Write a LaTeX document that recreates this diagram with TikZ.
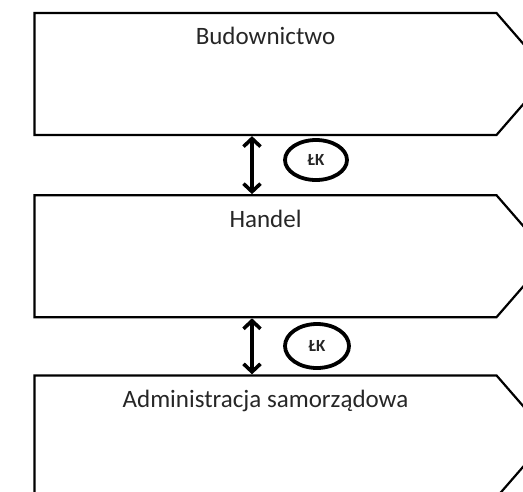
\documentclass[tikz,border=0pt]{standalone}
\usepackage{fontspec}
\setmainfont{Carlito}
\usetikzlibrary{positioning, shapes.symbols, shapes.geometric, arrows.meta}

\begin{document}
\begin{tikzpicture}[x=1pt, y=-1pt, >={Straight Barb[length=8pt,width=17pt]},
  sector/.style={draw, line width=2.2pt, shape=signal, signal to=east, signal pointer angle=98,
    minimum width=515pt, minimum height=122pt, inner sep=0pt},
  sectorname/.style={anchor=base, inner sep=0pt, yshift=-33pt, text=black!85, font=\fontsize{25}{30}\selectfont},
  lk/.style={draw, ellipse, line width=3.8pt, minimum width=62pt, minimum height=40pt, inner sep=0pt,
    text=black!85, font=\bfseries\fontsize{17}{20}\selectfont},
  link/.style={<->, line width=3.6pt}]
  \useasboundingbox (0,0) rectangle (523,491);

  \node[sector, label={[sectorname]north:Budownictwo}] (bud) at (265.5,74) {};
  \node[sector, label={[sectorname]north:Handel}, below=58pt of bud] (han) {};
  \node[sector, label={[sectorname]north:Administracja samorządowa}, below=56pt of han] (adm) {};

  \node[lk] (lk1) at (316,160) {ŁK};
  \node[lk, minimum width=64pt, minimum height=44pt] (lk2) at (317,346) {ŁK};

  \draw[link] ([xshift=-13.5pt]bud.south) -- ([xshift=-13.5pt]han.north);
  \draw[link] ([xshift=-13.5pt]han.south) -- ([xshift=-13.5pt]adm.north);
\end{tikzpicture}
\end{document}
